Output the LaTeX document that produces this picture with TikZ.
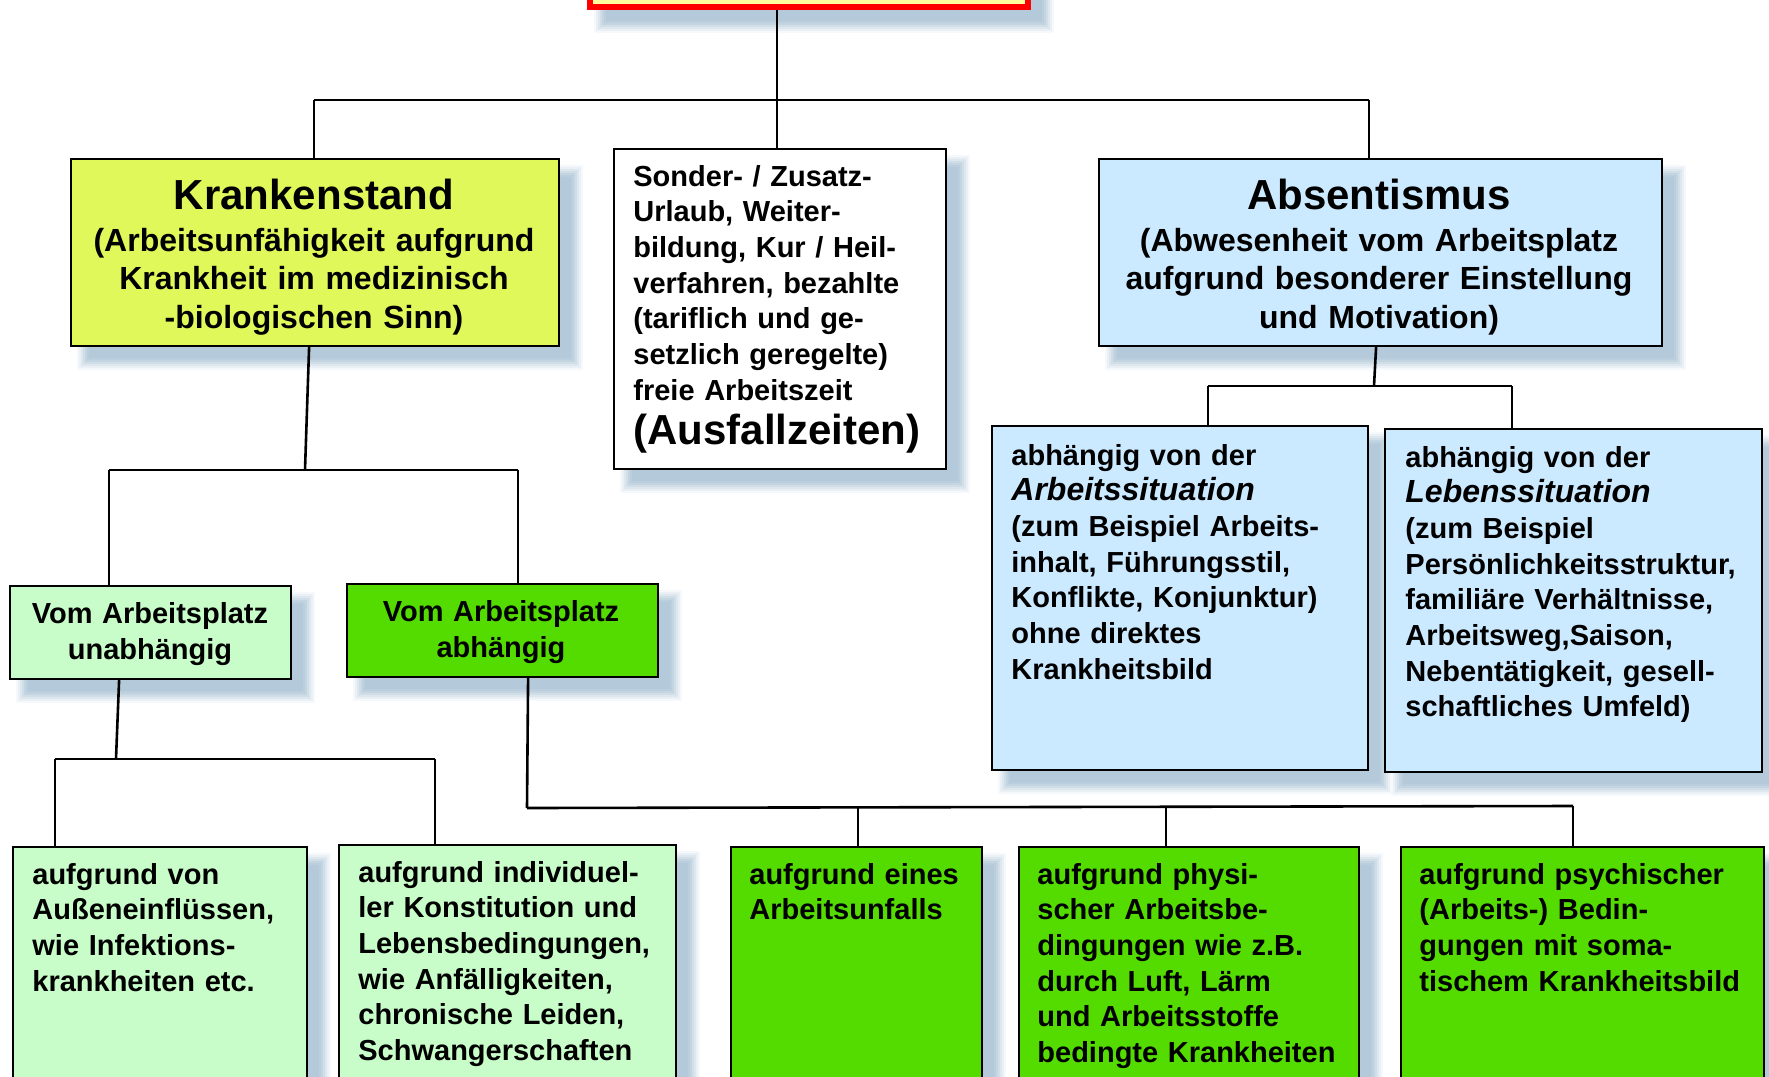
\documentclass[tikz,border=0pt]{standalone}
\usepackage{fontspec}
\setmainfont{Liberation Sans}
\usetikzlibrary{calc}

\definecolor{krank}{RGB}{224,248,90}
\definecolor{paleg}{RGB}{200,252,200}
\definecolor{brightg}{RGB}{84,220,0}
\definecolor{paleb}{RGB}{204,234,255}
\definecolor{shade}{RGB}{180,202,218}
\definecolor{paley}{RGB}{255,255,160}
\definecolor{alarm}{RGB}{255,0,0}

\pgfdeclarelayer{paper}
\pgfdeclarelayer{shadows}
\pgfdeclarelayer{wires}
\pgfsetlayers{paper,shadows,wires,main}

\def\pxu{0.5pt}

\tikzset{
  box/.style={draw=black, line width=1.1pt, rectangle, inner sep=0pt, anchor=north west},
  wire/.style={draw=black, line width=1.3pt},
  txt/.style={inner sep=0pt, font=\fontsize{14.5pt}{17.85pt}\selectfont\bfseries,
    align=left, text width=#1, anchor=base west},
  ctxt/.style={inner sep=0pt, font=\fontsize{16pt}{19.3pt}\selectfont\bfseries,
    align=center, text width=#1, anchor=base},
  stxt/.style={inner sep=0pt, font=\fontsize{14.5pt}{18pt}\selectfont\bfseries,
    align=center, text width=#1, anchor=base},
  headline/.style={inner sep=0pt, font=\fontsize{21pt}{25pt}\selectfont\bfseries, anchor=base},
}

% slanted emphasis inside the body text
\newcommand\slant[1]{{\fontsize{16pt}{17.85pt}\selectfont\itshape #1}}

% soft drop shadow behind a named box: nested rectangles fading to white
\newcommand\boxshadow[1]{%
  \begin{pgfonlayer}{shadows}
    \foreach \e/\p in {8/12,6/28,4/45,2/62,0/80,-2/92,-4/100}{
      \fill[shade!\p!white]
        ([shift={(15-\e,15-\e)}]#1.north west) rectangle ([shift={(15+\e,15+\e)}]#1.south east);
    }
  \end{pgfonlayer}}

\begin{document}
\begin{tikzpicture}[x=0.5pt, y=-0.5pt]
\useasboundingbox (0,0) rectangle (1769,1077);
\begin{pgfonlayer}{paper}
  \fill[white] (0,0) rectangle (1769,1077);
\end{pgfonlayer}

% ---- boxes
\node[box, fill=paley, draw=alarm, line width=3pt,
      minimum width=438*\pxu, minimum height=84*\pxu] (head) at (587,-80) {};
\node[box, fill=krank,   minimum width=488*\pxu, minimum height=187*\pxu] (kt) at (70,158) {};
\node[box, fill=white,   minimum width=332*\pxu, minimum height=320*\pxu] (so) at (613,148) {};
\node[box, fill=paleb,   minimum width=563*\pxu, minimum height=187*\pxu] (ab) at (1098,158) {};
\node[box, fill=paleg,   minimum width=281*\pxu, minimum height=93*\pxu]  (un) at (9,585) {};
\node[box, fill=brightg, minimum width=311*\pxu, minimum height=93*\pxu]  (ah) at (346,583) {};
\node[box, fill=paleb,   minimum width=376*\pxu, minimum height=344*\pxu] (as) at (991,425) {};
\node[box, fill=paleb,   minimum width=377*\pxu, minimum height=343*\pxu] (ls) at (1384,428) {};
\node[box, fill=paleg,   minimum width=294*\pxu, minimum height=260*\pxu] (a1) at (12,846) {};
\node[box, fill=paleg,   minimum width=337*\pxu, minimum height=262*\pxu] (a2) at (338,844) {};
\node[box, fill=brightg, minimum width=251*\pxu, minimum height=260*\pxu] (b1) at (730,846) {};
\node[box, fill=brightg, minimum width=340*\pxu, minimum height=260*\pxu] (b2) at (1018,846) {};
\node[box, fill=brightg, minimum width=363*\pxu, minimum height=260*\pxu] (b3) at (1400,846) {};

\foreach \b in {head,kt,so,ab,un,ah,as,ls,a1,a2,b1,b2,b3}{\boxshadow{\b}}

% ---- texts
\node[headline] (ktT) at (314,209) {Krankenstand};
\node[ctxt=240pt] (ktB) at (314,251) {(Arbeitsunfähigkeit aufgrund\\Krankheit im medizinisch\\-biologischen Sinn)};

\node[headline] (abT) at (1379,209) {Absentismus};
\node[ctxt=280pt] (abB) at (1379,251) {(Abwesenheit vom Arbeitsplatz\\aufgrund besonderer Einstellung\\und Motivation)};

\node[txt=160pt] (soB) at (633,186) {Sonder- / Zusatz-\\Urlaub, Weiter-\\bildung, Kur / Heil-\\verfahren, bezahlte\\(tariflich und ge-\\setzlich geregelte)\\freie Arbeitszeit};
\node[headline, anchor=base west] (soT) at (633,444) {(Ausfallzeiten)};

\node[stxt=140pt] (unB) at (150,623) {Vom Arbeitsplatz\\unabhängig};
\node[stxt=150pt] (ahB) at (501,621) {Vom Arbeitsplatz\\abhängig};

\node[txt=180pt] (asB) at (1011,465) {abhängig von der\\\slant{Arbeitssituation}\\(zum Beispiel Arbeits-\\inhalt, Führungsstil,\\Konflikte, Konjunktur)\\ohne direktes\\Krankheitsbild};
\node[txt=180pt] (lsB) at (1405,467) {abhängig von der\\\slant{Lebenssituation}\\(zum Beispiel\\Persönlichkeitsstruktur,\\familiäre Verhältnisse,\\Arbeitsweg,Saison,\\Nebentätigkeit, gesell-\\schaftliches Umfeld)};

\node[txt=140pt] (a1B) at (32,884) {aufgrund von\\Außeneinflüssen,\\wie Infektions-\\krankheiten etc.};
\node[txt=160pt] (a2B) at (358,882) {aufgrund individuel-\\ler Konstitution und\\Lebensbedingungen,\\wie Anfälligkeiten,\\chronische Leiden,\\Schwangerschaften};
\node[txt=120pt] (b1B) at (749,884) {aufgrund eines\\Arbeitsunfalls};
\node[txt=165pt] (b2B) at (1037,884) {aufgrund physi-\\scher Arbeitsbe-\\dingungen wie z.B.\\durch Luft, Lärm\\und Arbeitsstoffe\\bedingte Krankheiten};
\node[txt=175pt] (b3B) at (1419,884) {aufgrund psychischer\\(Arbeits-) Bedin-\\gungen mit soma-\\tischem Krankheitsbild};

% ---- connectors
\begin{pgfonlayer}{wires}
  \coordinate (t0) at (777,100);
  \coordinate (tL) at (314,100);
  \coordinate (tR) at (1369,100);
  \draw[wire] (head.south -| t0) -- (t0);
  \draw[wire] (tL) -- (tR);
  \draw[wire] (tL) -- (tL |- kt.north);
  \draw[wire] (t0) -- (t0 |- so.north);
  \draw[wire] (tR) -- (tR |- ab.north);

  \coordinate (k0) at (305,470);
  \coordinate (kL) at (109,470);
  \coordinate (kR) at (518,470);
  \draw[wire] ([xshift=-3pt]kt.south) -- (k0);
  \draw[wire] (kL) -- (kR);
  \draw[wire] (kL) -- (kL |- un.north);
  \draw[wire] (kR) -- (kR |- ah.north);

  \coordinate (u0) at (116,759);
  \coordinate (uL) at (55,759);
  \coordinate (uR) at (435,759);
  \draw[wire] ([xshift=-15.75pt]un.south) -- (u0);
  \draw[wire] (uL) -- (uR);
  \draw[wire] (uL) -- (uL |- a1.north);
  \draw[wire] (uR) -- (uR |- a2.north);

  \coordinate (h0) at (527,808);
  \coordinate (hb1) at (858,807.5);
  \coordinate (hb2) at (1166,807);
  \coordinate (hR) at (1573,806);
  \draw[wire] ([xshift=12.75pt]ah.south) -- (h0);
  \draw[wire] (h0) -- (hR);
  \draw[wire] (hb1) -- (hb1 |- b1.north);
  \draw[wire] (hb2) -- (hb2 |- b2.north);
  \draw[wire] (hR) -- (hR |- b3.north);

  \coordinate (a0) at (1374,386);
  \coordinate (aL) at (1208,386);
  \coordinate (aR) at (1512,386);
  \draw[wire] ([xshift=-2.25pt]ab.south) -- (a0);
  \draw[wire] (aL) -- (aR);
  \draw[wire] (aL) -- (aL |- as.north);
  \draw[wire] (aR) -- (aR |- ls.north);
\end{pgfonlayer}
\end{tikzpicture}
\end{document}
